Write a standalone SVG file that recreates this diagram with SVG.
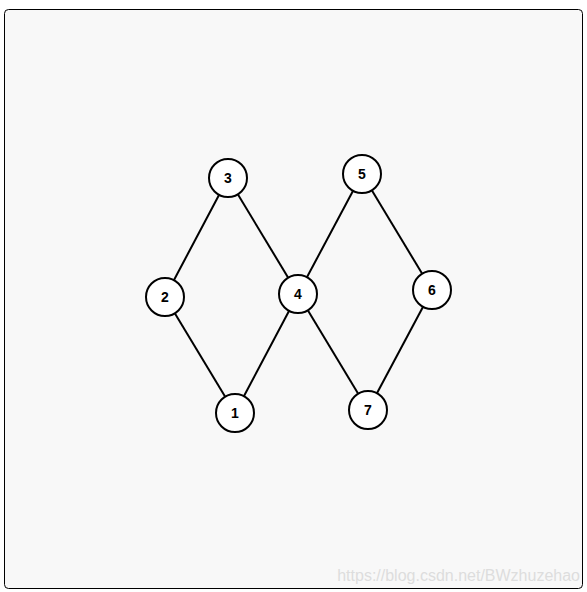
<svg xmlns="http://www.w3.org/2000/svg" width="587" height="592" viewBox="0 0 587 592">
<style>
.n circle{fill:#fff;stroke:#000;stroke-width:2}
.n text{font-family:"Liberation Sans",Arial,sans-serif;font-size:14px;font-weight:bold;text-anchor:middle;dominant-baseline:central;fill:#000}
#edges line{stroke:#000;stroke-width:2}
</style>
<rect width="587" height="592" fill="#fff"/>
<rect x="4.5" y="9.5" width="578" height="579" rx="4" fill="#f8f8f8" stroke="#000" stroke-width="1"/>
<g id="edges">
<line x1="228" y1="178" x2="165" y2="297"/>
<line x1="228" y1="178" x2="298" y2="294"/>
<line x1="165" y1="297" x2="235" y2="413"/>
<line x1="298" y1="294" x2="235" y2="413"/>
<line x1="298" y1="294" x2="362" y2="174"/>
<line x1="298" y1="294" x2="368" y2="410"/>
<line x1="362" y1="174" x2="432" y2="290"/>
<line x1="432" y1="290" x2="368" y2="410"/>
</g>
<g id="node3" class="n"><circle cx="228" cy="178" r="19"/><text x="228" y="178">3</text></g>
<g id="node2" class="n"><circle cx="165" cy="297" r="19"/><text x="165" y="297">2</text></g>
<g id="node4" class="n"><circle cx="298" cy="294" r="19"/><text x="298" y="294">4</text></g>
<g id="node5" class="n"><circle cx="362" cy="174" r="19"/><text x="362" y="174">5</text></g>
<g id="node6" class="n"><circle cx="432" cy="290" r="19"/><text x="432" y="290">6</text></g>
<g id="node1" class="n"><circle cx="235" cy="413" r="19"/><text x="235" y="413">1</text></g>
<g id="node7" class="n"><circle cx="368" cy="410" r="19"/><text x="368" y="410">7</text></g>
<text x="580" y="581" text-anchor="end" font-family="'Liberation Sans',Arial,sans-serif" font-size="16" fill="#dddddd">https://blog.csdn.net/BWzhuzehao</text>
</svg>
